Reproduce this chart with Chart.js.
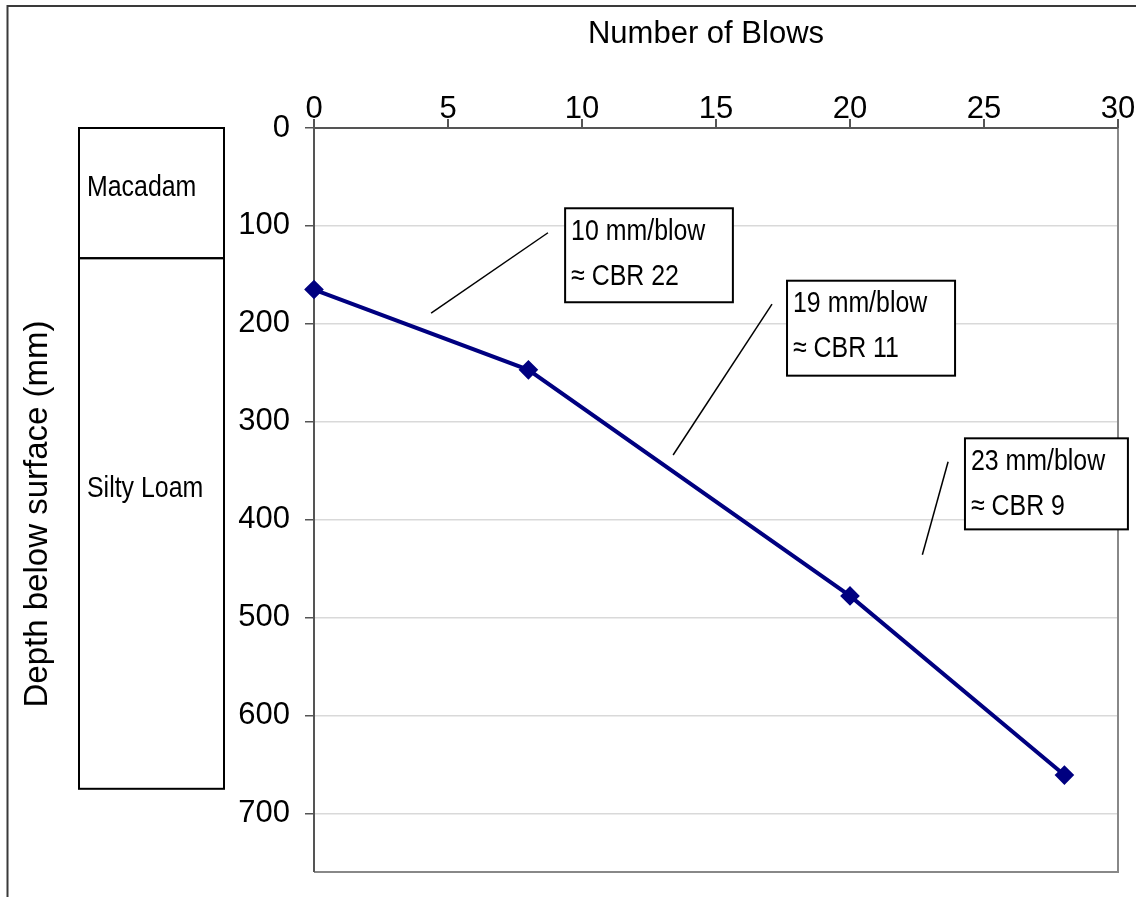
<!DOCTYPE html>
<html><head><meta charset="utf-8">
<script src="https://cdn.jsdelivr.net/npm/chart.js@4.4.0/dist/chart.umd.min.js"></script>
<style>html,body{margin:0;padding:0;background:#fff;} #wrap{width:1136px;height:897px;position:relative;}</style>
</head><body><div id="wrap"><canvas id="c" width="1136" height="897"></canvas></div>
<script>
// ---- data ----
const blows = [0, 8, 20, 28];
const depthMm = [165, 247, 478, 661];
const blowTicks = [0, 5, 10, 15, 20, 25, 30];
const depthTicks = [0, 100, 200, 300, 400, 500, 600, 700];
const layerNames = ['Macadam', 'Silty Loam'];
const layerTopMm = [0, 133];
const layerBottomMm = [133, 675];
const noteLines = [['10 mm/blow', '≈ CBR 22'], ['19 mm/blow', '≈ CBR 11'], ['23 mm/blow', '≈ CBR 9']];
const xTitle = 'Number of Blows';
const yTitle = 'Depth below surface (mm)';

// ---- layout (data-space anchors for annotations) ----
const layout = {
  depthMax: 760,
  layerLabelMm: [61, 369],
  noteBox: [[9.37, 82, 15.63, 178], [17.65, 156, 23.92, 253], [24.29, 317, 30.37, 410]],
  noteLeader: [[4.37, 189, 8.73, 107], [17.09, 180, 13.4, 334], [23.66, 341, 22.7, 436]],
  layerX: [79, 224]
};
const SANS = '"Liberation Sans", Arial, sans-serif';
const SQUEEZE = 0.83;

function narrowText(ctx, s, x, y) {
  ctx.save();
  ctx.translate(x, y);
  ctx.scale(SQUEEZE, 1);
  ctx.fillText(s, 0, 0);
  ctx.restore();
}

const decor = {
  id: 'decor',
  beforeDraw(chart) {
    const ctx = chart.ctx;
    ctx.save();
    ctx.fillStyle = '#fff';
    ctx.fillRect(0, 0, chart.width, chart.height);
    // outer frame (cut off at right/bottom)
    ctx.strokeStyle = '#3a3a3a';
    ctx.lineWidth = 2;
    ctx.beginPath();
    ctx.moveTo(7.5, 900); ctx.lineTo(7.5, 6); ctx.lineTo(1140, 6);
    ctx.stroke();
    // axis titles
    ctx.fillStyle = '#000';
    ctx.textAlign = 'center';
    ctx.textBaseline = 'middle';
    ctx.font = '31px ' + SANS;
    ctx.fillText(xTitle, 706, 34);
    ctx.translate(38, 514);
    ctx.rotate(-Math.PI / 2);
    ctx.font = '33px ' + SANS;
    ctx.fillText(yTitle, 0, 0);
    ctx.restore();
  },
  beforeDatasetsDraw(chart) {
    const {ctx, chartArea: a} = chart;
    ctx.save();
    ctx.strokeStyle = '#888';
    ctx.lineWidth = 2;
    ctx.beginPath();
    ctx.moveTo(a.left, a.bottom); ctx.lineTo(a.right, a.bottom); ctx.lineTo(a.right, a.top);
    ctx.stroke();
    ctx.strokeStyle = '#555';
    ctx.beginPath();
    ctx.moveTo(a.left, a.top); ctx.lineTo(a.left, a.bottom);
    ctx.moveTo(a.left, a.top); ctx.lineTo(a.right, a.top);
    ctx.stroke();
    ctx.restore();
  },
  afterDatasetsDraw(chart) {
    const {ctx, scales: {x, y}} = chart;
    ctx.save();
    // layer column
    ctx.strokeStyle = '#000';
    ctx.lineWidth = 2;
    ctx.font = '30px ' + SANS;
    ctx.fillStyle = '#000';
    ctx.textBaseline = 'middle';
    ctx.textAlign = 'left';
    layerNames.forEach((n, i) => {
      const t = y.getPixelForValue(layerTopMm[i]);
      const b = y.getPixelForValue(layerBottomMm[i]);
      ctx.strokeRect(layout.layerX[0], t, layout.layerX[1] - layout.layerX[0], b - t);
      narrowText(ctx, n, layout.layerX[0] + 8, y.getPixelForValue(layout.layerLabelMm[i]));
    });
    // annotations
    noteLines.forEach((lines, i) => {
      const L = layout.noteLeader[i];
      ctx.lineWidth = 1.5;
      ctx.beginPath();
      ctx.moveTo(x.getPixelForValue(L[0]), y.getPixelForValue(L[1]));
      ctx.lineTo(x.getPixelForValue(L[2]), y.getPixelForValue(L[3]));
      ctx.stroke();
      const B = layout.noteBox[i];
      const bx = x.getPixelForValue(B[0]), by = y.getPixelForValue(B[1]);
      const bw = x.getPixelForValue(B[2]) - bx, bh = y.getPixelForValue(B[3]) - by;
      ctx.fillStyle = '#fff';
      ctx.fillRect(bx, by, bw, bh);
      ctx.lineWidth = 2;
      ctx.strokeRect(bx, by, bw, bh);
      ctx.fillStyle = '#000';
      lines.forEach((s, k) => narrowText(ctx, s, bx + 6, by + 23 + k * 45));
    });
    ctx.restore();
  }
};

new Chart(document.getElementById('c'), {
  type: 'line',
  data: {
    datasets: [{
      data: blows.map((b, i) => ({x: b, y: depthMm[i]})),
      borderColor: '#000080',
      backgroundColor: '#000080',
      borderWidth: 4,
      pointStyle: 'rectRot',
      pointRadius: 7,
      pointHoverRadius: 7,
      tension: 0,
      clip: false
    }]
  },
  options: {
    responsive: false,
    animation: false,
    devicePixelRatio: 1,
    layout: {padding: {left: 0, top: 0, right: 18, bottom: 25}},
    plugins: {legend: {display: false}, tooltip: {enabled: false}},
    scales: {
      x: {
        type: 'linear', position: 'top', min: 0, max: 30,
        afterBuildTicks: s => { s.ticks = blowTicks.map(v => ({value: v})); },
        afterFit: s => { s.height = 128; s.paddingLeft = 0; s.paddingRight = 0; },
        grid: {color: 'rgba(0,0,0,0)', tickColor: '#555', tickLength: 9, lineWidth: 2},
        border: {display: false},
        ticks: {font: {family: SANS, size: 31, lineHeight: 1}, color: '#000', padding: -6, maxRotation: 0},
        title: {display: false}
      },
      y: {
        type: 'linear', position: 'left', reverse: true, min: 0, max: layout.depthMax,
        afterBuildTicks: s => { s.ticks = depthTicks.map(v => ({value: v})); },
        afterFit: s => { s.width = 314; s.paddingTop = 0; s.paddingBottom = 0; },
        grid: {color: '#d9d9d9', tickColor: '#555', tickLength: 9, lineWidth: 1.5},
        border: {display: false},
        ticks: {font: {family: SANS, size: 31}, color: '#000', padding: 15},
        title: {display: false}
      }
    }
  },
  plugins: [decor]
});
</script>
</body></html>
